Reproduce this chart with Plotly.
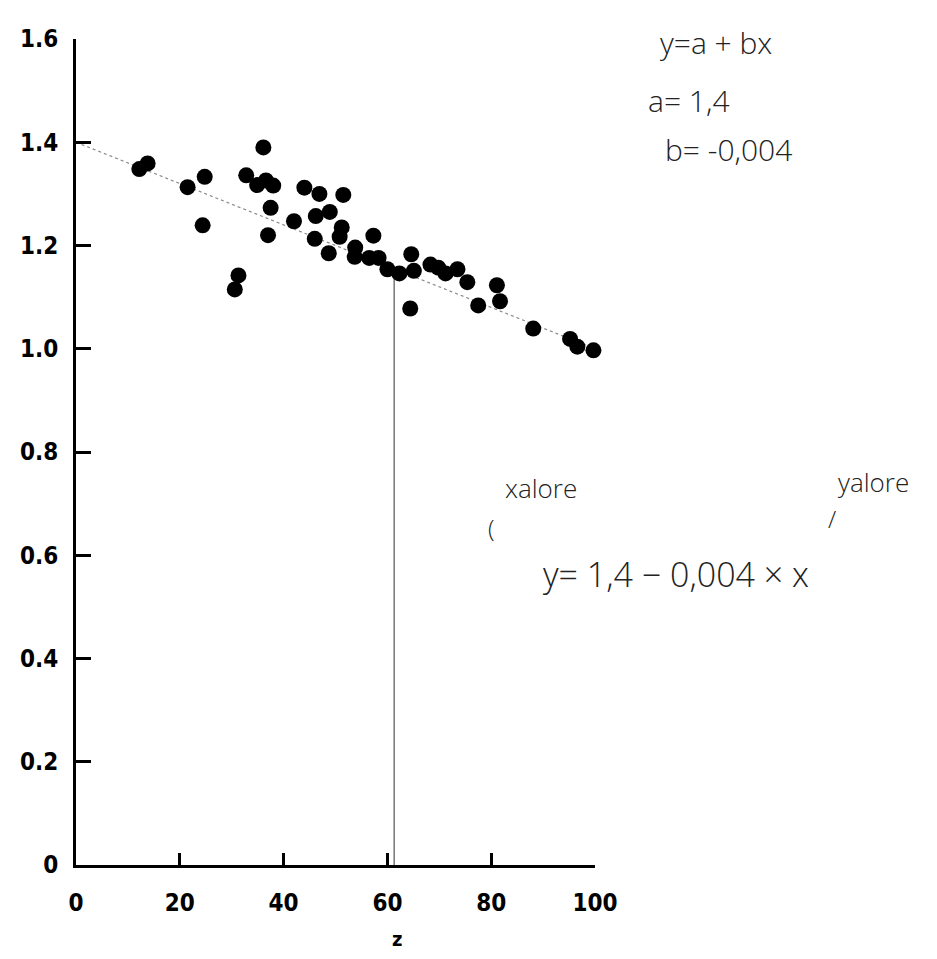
import plotly.graph_objects as go

# ---- data ----
z_values = [12.2, 13.8, 21.5, 24.8, 24.4, 31.3, 30.6, 32.8, 36.1, 34.9, 36.6, 38.0,
            37.5, 37.0, 42.0, 44.0, 46.9, 46.2, 48.9, 46.0, 48.7, 51.5, 51.2, 50.8,
            57.3, 53.8, 53.7, 56.5, 58.3, 60.0, 62.3, 64.6, 65.1, 64.4, 68.3, 69.8,
            71.2, 73.5, 75.4, 77.5, 81.1, 81.7, 88.1, 95.2, 96.6, 99.7]
y_values = [1.348, 1.359, 1.313, 1.333, 1.239, 1.142, 1.115, 1.336, 1.390, 1.317, 1.326, 1.316,
            1.273, 1.220, 1.247, 1.312, 1.300, 1.257, 1.265, 1.213, 1.185, 1.298, 1.235, 1.217,
            1.219, 1.196, 1.178, 1.176, 1.176, 1.154, 1.146, 1.183, 1.151, 1.078, 1.163, 1.157,
            1.146, 1.154, 1.129, 1.084, 1.123, 1.092, 1.039, 1.019, 1.004, 0.997]

fit_a = 1.4
fit_b = -0.004
fit_x = [0, 101]
marker_z = 61.3

x_ticks = [0, 20, 40, 60, 80, 100]
x_ticktext = ["0", "20", "40", "60", "80", "100"]
y_ticks = [0, 0.2, 0.4, 0.6, 0.8, 1.0, 1.2, 1.4, 1.6]
y_ticktext = ["0", "0.2", "0.4", "0.6", "0.8", "1.0", "1.2", "1.4", "1.6"]

notes = [
    ("y=a + bx", 1.234, 0.996, 30),
    ("a= 1,4", 1.181, 0.926, 30),
    ("b= -0,004", 1.257, 0.866, 30),
    ("xalore", 0.895, 0.456, 26),
    ("(", 0.800, 0.408, 24),
    ("yalore", 1.537, 0.464, 26),
    ("/", 1.457, 0.420, 24),
    ("y= 1,4 − 0,004 × x", 1.156, 0.352, 34),
]

fit_y = [fit_a + fit_b * v for v in fit_x]
marker_y = fit_a + fit_b * marker_z

fig = go.Figure()
fig.add_trace(go.Scatter(x=fit_x, y=fit_y, mode="lines",
                         line=dict(color="#8a8a8a", width=1.2, dash="dot"),
                         hoverinfo="skip", showlegend=False))
fig.add_trace(go.Scatter(x=[marker_z, marker_z], y=[0, marker_y], mode="lines",
                         line=dict(color="#555555", width=1.2),
                         hoverinfo="skip", showlegend=False))
fig.add_trace(go.Scatter(x=z_values, y=y_values, mode="markers",
                         marker=dict(color="black", size=16),
                         cliponaxis=False, showlegend=False))

tick_font = dict(family="DejaVu Sans Condensed, DejaVu Sans", size=24, color="black", weight="bold")

fig.update_xaxes(range=[0, 100], tickvals=x_ticks, ticktext=x_ticktext,
                 showline=True, linecolor="black", linewidth=3,
                 ticks="inside", ticklen=12, tickwidth=3, tickcolor="black",
                 showgrid=False, zeroline=False, tickfont=tick_font,
                 ticklabelstandoff=14)
fig.update_yaxes(range=[0, 1.6], tickvals=y_ticks, ticktext=y_ticktext,
                 showline=True, linecolor="black", linewidth=3,
                 ticks="inside", ticklen=15, tickwidth=3, tickcolor="black",
                 showgrid=False, zeroline=False, tickfont=tick_font,
                 ticklabelstandoff=10)

for text, px, py, size in notes:
    fig.add_annotation(text=text, x=px, y=py, xref="paper", yref="paper",
                       showarrow=False, xanchor="center", yanchor="middle",
                       font=dict(family="Open Sans", size=size, color="#222222", weight=300))

fig.add_annotation(text="z", x=(395 - 70) / 525, y=-0.09, xref="paper", yref="paper",
                   showarrow=False, xanchor="center", yanchor="middle",
                   font=dict(family="DejaVu Sans Condensed, DejaVu Sans", size=20,
                             color="black", weight="bold"))

# page body has an 8px default margin, so the figure is placed 8px in
fig.update_layout(width=921, height=943,
                  margin=dict(l=62, r=334, t=31, b=86),
                  paper_bgcolor="white", plot_bgcolor="white")

fig.write_html("out.html")
